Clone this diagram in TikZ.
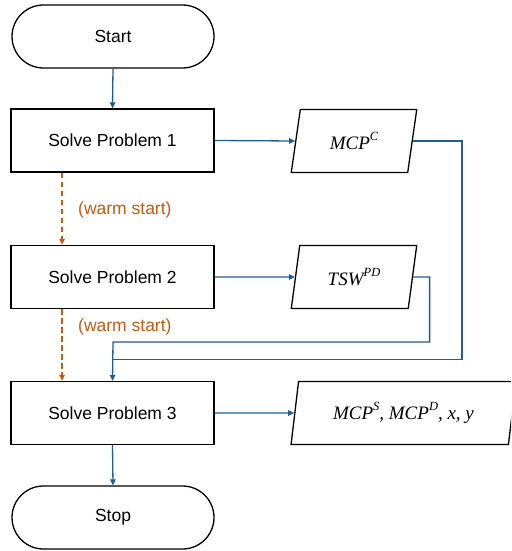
\documentclass[tikz,border=0pt]{standalone}
\usepackage{fontspec}
\setmainfont{Liberation Sans}
\newfontfamily\symfont{Liberation Serif}
\usetikzlibrary{shapes.geometric,arrows.meta}
\definecolor{flowblue}{HTML}{1F5F8F}
\definecolor{warmorange}{HTML}{C55A11}
% italic symbols with raised superscripts
\newcommand{\sym}[1]{{\symfont\itshape #1}}
\newcommand{\symsup}[1]{\raisebox{0.45em}{\fontsize{12.5}{14}\selectfont\symfont\itshape #1}}
\tikzset{
  base/.style={draw=black, line width=1.3pt, fill=white, inner sep=0pt,
    font=\fontsize{17.5}{21}\selectfont},
  terminal/.style={base, rectangle, rounded corners=31.5pt,
    minimum width=202pt, minimum height=63pt},
  process/.style={base, rectangle, minimum width=203pt, minimum height=63pt},
  data/.style={base, trapezium, trapezium left angle=76.5, trapezium right angle=103.5,
    trapezium stretches=true, minimum height=63pt,
    font=\fontsize{19}{22}\selectfont},
  flow/.style={draw=flowblue, line width=1.3pt,
    -{Triangle[length=6pt,width=5.5pt]}},
  flowline/.style={draw=flowblue, line width=1.3pt},
  warm/.style={draw=warmorange, line width=1.3pt, dash pattern=on 5.5pt off 3.5pt,
    -{Triangle[length=6pt,width=5.5pt]}},
  warmlabel/.style={text=warmorange, anchor=west, inner sep=0pt,
    font=\fontsize{17.5}{21}\selectfont},
}
\begin{document}
\begin{tikzpicture}[x=1pt,y=-1pt]
  \useasboundingbox (0,0) rectangle (511,551);
  \begin{scope}
  \clip (0,0) rectangle (511,551);

  % main column
  \node[terminal] (start) at (113,36.5) {Start};
  \node[process]  (p1)    at (112.5,140.5) {Solve Problem 1};
  \node[process]  (p2)    at (112.5,277) {Solve Problem 2};
  \node[process]  (p3)    at (112.5,413) {Solve Problem 3};
  \node[terminal] (stop)  at (113,517.5) {Stop};

  % outputs
  \node[data, minimum width=126pt] (o1) at (354,141) {\sym{MCP}\symsup{C}};
  \node[data, minimum width=126pt] (o2) at (354,277) {\sym{TSW}\symsup{PD}};
  \node[data, minimum width=225pt] (o3) at (403.5,413)
    {\sym{MCP}\symsup{S}\sym{, MCP}\symsup{D}\sym{, x, y}};

  % main flow
  \draw[flow] (start.south) -- (p1.north);
  \draw[flow] (p3.south) -- (stop.north);
  \draw[flow] (p1.east) -- (o1.west);
  \draw[flow] (p2.east) -- (o2.west);
  \draw[flow] (p3.east) -- (o3.west);

  % feedback of earlier results into problem 3
  \coordinate (bus1) at (113,342);
  \coordinate (bus2) at (113,359.3);
  \draw[flowline] (o1.east) -- ++(49,0) |- (bus2);
  \draw[flow] (o2.east) -- ++(16.5,0) |- (bus1) -- (p3.north);

  % warm starts
  \coordinate (wx) at (62,0);
  \draw[warm] (p1.south -| wx) -- (p2.north -| wx);
  \draw[warm] (p2.south -| wx) -- (p3.north -| wx);
  \node[warmlabel] (w1) at (78,210) {(warm start)};
  \node[warmlabel] (w2) at (78,327) {(warm start)};
  \end{scope}
\end{tikzpicture}
\end{document}
